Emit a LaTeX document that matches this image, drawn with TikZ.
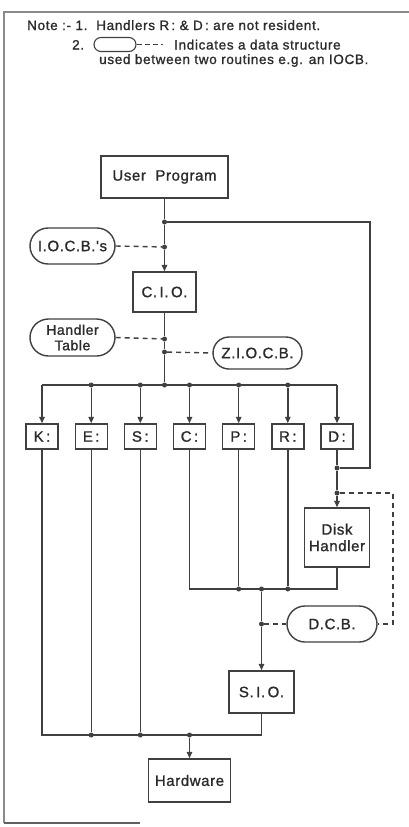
\documentclass[tikz,border=0pt]{standalone}
\usepackage{fontspec}
\setmainfont{Liberation Sans}
\newfontfamily\notefont[LetterSpace=5,FakeBold=1.2]{Liberation Sans}
\newfontfamily\boxfont[LetterSpace=4,FakeBold=1.2]{Liberation Sans}
\usetikzlibrary{arrows.meta,shapes.misc}
\definecolor{ink}{HTML}{404040}
\definecolor{txt}{HTML}{2B2B2B}
\definecolor{frame}{HTML}{8A8A8A}
\tikzset{
  wire/.style={draw=ink, line width=1.4pt},
  dwire/.style={draw=ink, line width=1.4pt, dash pattern=on 5pt off 4pt},
  arr/.style={wire, -{Triangle[length=6.5pt,width=5.5pt]}},
  box/.style={draw=ink, line width=1.4pt, inner sep=0pt, align=center, text=txt,
     font=\boxfont\fontsize{15}{16.5}\selectfont},
  oval/.style={box, rounded rectangle},
  dot/.style={circle, fill=ink, inner sep=0pt, minimum size=5pt},
  note/.style={anchor=base west, inner sep=0pt, text=txt, font=\notefont\fontsize{13.5}{15}\selectfont},
}
\begin{document}
\begin{tikzpicture}[x=1pt,y=-1pt]
\useasboundingbox (0,0) rectangle (409,827);
% frame
\draw[frame, line width=1.3pt] (409,12) -- (4,12) -- (4,823);
\draw[frame!70!black, line width=1.5pt] (4,823) -- (140,823);
% note
\node[note] (n1) at (27,30) {Note :- 1.\ \ Handlers R\,: \& D\,: are not resident.};
\node[note] (n2) at (72,49.5) {2.};
\node[draw=ink, line width=1.1pt, rounded rectangle, minimum width=42pt, minimum height=14pt, inner sep=0pt] (ic) at (115,44.5) {};
\coordinate (icd) at (163,44.5);
\draw[ink, line width=1.1pt, dash pattern=on 5pt off 3pt] (ic.east) -- (icd);
\node[note] (n3) at (174,49.5) {Indicates a data structure};
\node[note] (n4) at (99,64) {used between two routines e.g. an IOCB.};

% main nodes
\node[box, minimum width=127pt, minimum height=42pt] (up) at (164.5,177) {User\ \ Program};
\node[box, minimum width=63pt, minimum height=40pt] (cio) at (164.5,292) {C.\,I.\,O.};
\node[oval, minimum width=85pt, minimum height=36pt] (iocb) at (72.5,246) {I.O.C.B.'s};
\node[oval, minimum width=85pt, minimum height=37pt, font=\boxfont\fontsize{14}{15.5}\selectfont] (ht) at (72.5,337.5) {Handler\\Table};
\node[oval, minimum width=89pt, minimum height=32pt] (zio) at (257.5,353) {Z.I.O.C.B.};

\foreach \n/\x/\t in {K/42/K,E/91.2/E,S/140.3/S,C/189.5/C,P/238.7/P,R/287.8/R,D/337/D}{
  \node[box, minimum width=32pt, minimum height=25pt] (\n) at (\x,436.5) {\t\,:};
}
\node[box, minimum width=65pt, minimum height=59pt] (disk) at (337,537.5) {Disk\\Handler};
\node[oval, minimum width=90pt, minimum height=36pt] (dcb) at (332,624) {D.C.B.};
\node[box, minimum width=65pt, minimum height=42pt] (sio) at (261.5,692) {S.\,I.\,O.};
\node[box, minimum width=82pt, minimum height=43pt] (hw) at (189.5,780.5) {Hardware};

% junctions
\node[dot] (j1) at (164.5,222) {};
\node[dot] (j2) at (164.5,247) {};
\node[dot] (j3) at (164.5,339) {};
\node[dot] (j3b) at (164.5,352) {};
\node[dot] (jb) at (164.5,385) {};
\coordinate (r1) at (370,222);
\coordinate (r2) at (370,468);
\node[dot] (j4) at (337,468) {};
\node[dot] (j5) at (337,493) {};
\coordinate (d1) at (393,493);
\coordinate (d2) at (393,624);
% bus
\coordinate (bK) at (42,385);
\coordinate (bD) at (337,385);
\node[dot] (bE) at (91.2,385) {};
\node[dot] (bS) at (140.3,385) {};
\node[dot] (bC) at (189.5,385) {};
\node[dot] (bP) at (238.7,385) {};
\node[dot] (bR) at (287.8,385) {};
% collection
\coordinate (cC) at (189.5,589);
\coordinate (cD) at (337,589);
\node[dot] (cP) at (238.7,589) {};
\node[dot] (j6) at (261.5,589) {};
\node[dot] (cR) at (287.8,589) {};
\node[dot] (j7) at (261.5,624) {};
% bottom bus
\coordinate (hK) at (42,735);
\coordinate (hS0) at (261.5,735);
\node[dot] (hE) at (91.2,735) {};
\node[dot] (hS) at (140.3,735) {};
\node[dot] (hH) at (189.5,735) {};

% connectors
\draw[wire] (up.south) -- (j1) -- (j2);
\draw[arr] (j2) -- (cio.north);
\draw[wire] (j1) -- (r1) -- (r2) -- (j4);
\draw[dwire] (iocb.east) -- (j2);
\draw[wire] (cio.south) -- (j3) -- (j3b) -- (jb);
\draw[dwire] (ht.east) -- (j3);
\draw[dwire] (j3b) -- (zio.west);
\draw[wire] (bK) -- (bD);
\draw[arr] (bK) -- (K.north);
\draw[arr] (bE) -- (E.north);
\draw[arr] (bS) -- (S.north);
\draw[arr] (bC) -- (C.north);
\draw[arr] (bP) -- (P.north);
\draw[arr] (bR) -- (R.north);
\draw[arr] (bD) -- (D.north);
\draw[wire] (D.south) -- (j4) -- (j5);
\draw[arr] (j5) -- (disk.north);
\draw[dwire] (j5) -- (d1) -- (d2) -- (dcb.east);
\draw[wire] (C.south) -- (cC) -- (cD) -- (disk.south);
\draw[wire] (P.south) -- (cP);
\draw[wire] (R.south) -- (cR);
\draw[wire] (j6) -- (j7);
\draw[arr] (j7) -- (sio.north);
\draw[dwire] (j7) -- (dcb.west);
\draw[wire] (sio.south) -- (hS0) -- (hK) -- (K.south);
\draw[wire] (E.south) -- (hE);
\draw[wire] (S.south) -- (hS);
\draw[arr] (hH) -- (hw.north);
\end{tikzpicture}
\end{document}
